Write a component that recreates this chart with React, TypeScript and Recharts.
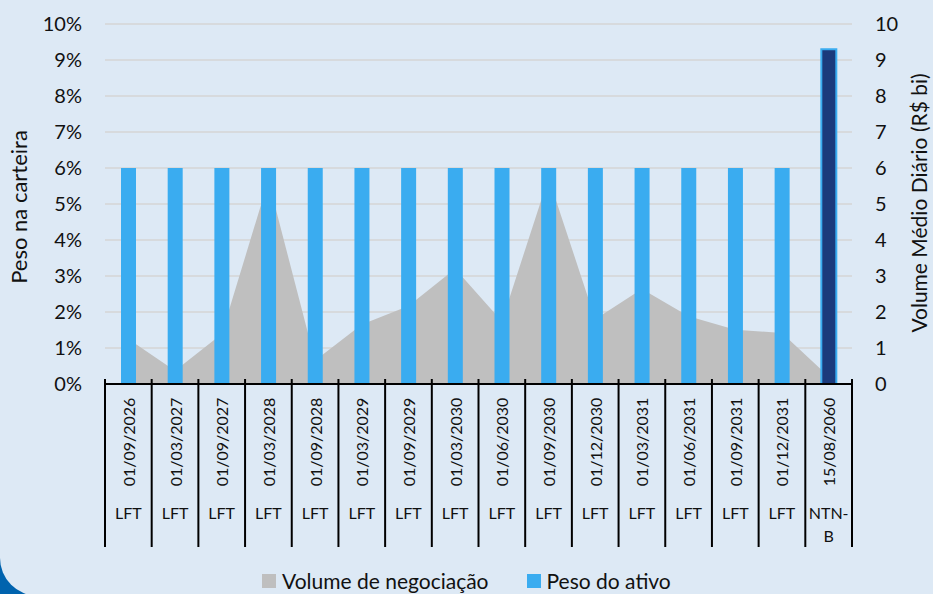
import React from 'react';
import { ComposedChart, Area, Bar, Cell, XAxis, YAxis, CartesianGrid } from 'recharts';

const dates = [
    '01/09/2026', '01/03/2027', '01/09/2027', '01/03/2028', '01/09/2028', '01/03/2029',
    '01/09/2029', '01/03/2030', '01/06/2030', '01/09/2030', '01/12/2030', '01/03/2031',
    '01/06/2031', '01/09/2031', '01/12/2031', '15/08/2060',
];
const assetTypes = ['LFT', 'LFT', 'LFT', 'LFT', 'LFT', 'LFT', 'LFT', 'LFT', 'LFT', 'LFT', 'LFT', 'LFT', 'LFT', 'LFT', 'LFT', 'NTN-B'];
// volume médio diário, R$ bi (eixo direito)
const volume = [1.25, 0.37, 1.39, 5.65, 0.65, 1.65, 2.17, 3.2, 1.74, 5.73, 1.8, 2.64, 1.88, 1.51, 1.42, 0.21];
// peso na carteira, em %
const peso = [6, 6, 6, 6, 6, 6, 6, 6, 6, 6, 6, 6, 6, 6, 6, 9.3];
const pctTicks = [0, 1, 2, 3, 4, 5, 6, 7, 8, 9, 10];
const volTicks = [0, 1, 2, 3, 4, 5, 6, 7, 8, 9, 10];

const data = dates.map((d, i) => ({ date: d, tipo: assetTypes[i], volume: volume[i], peso: peso[i] }));

const W = 933;
const H = 594;
const LEFT_W = 105;
const RIGHT_W = 81;
const PLOT_W = W - LEFT_W - RIGHT_W;
const STEP = PLOT_W / dates.length;
const FONT = 'Lato, "Open Sans", sans-serif';
const BG = '#dde9f5';
const GRAY = '#bfbfbf';
const BLUE = '#3aacf0';
const NAVY = '#1b3a7c';

const DateTick = (props: any) => {
    const { x, y, payload, index } = props;
    const tipo = assetTypes[index];
    const last = index === dates.length - 1;
    return (
        <g>
            <line x1={x - STEP / 2} x2={x - STEP / 2} y1={y - 5} y2={y + 163} stroke="#000" strokeWidth={2} />
            {last && <line x1={x + STEP / 2} x2={x + STEP / 2} y1={y - 5} y2={y + 163} stroke="#000" strokeWidth={2} />}
            <text
                transform={`translate(${x},${y + 58}) rotate(-90)`}
                textAnchor="middle"
                dominantBaseline="central"
                fontSize={16}
                fontFamily={FONT}
                fill="#111"
            >
                {payload.value}
            </text>
            {tipo === 'NTN-B' ? (
                <text textAnchor="middle" fontSize={16} fontFamily={FONT} fill="#111">
                    <tspan x={x} y={y + 135}>NTN-</tspan>
                    <tspan x={x} y={y + 158}>B</tspan>
                </text>
            ) : (
                <text x={x} y={y + 135} textAnchor="middle" fontSize={16} fontFamily={FONT} fill="#111">
                    {tipo}
                </text>
            )}
        </g>
    );
};

const App: React.FC = () => {
    return (
        <div style={{ position: 'absolute', left: 0, top: 0, width: W, height: H, overflow: 'hidden', background: '#0063ae' }}>
            <div style={{ position: 'absolute', left: 0, top: 0, width: W, height: 596, background: BG, borderBottomLeftRadius: 38 }} />
            <div style={{ position: 'absolute', left: 0, top: 0 }}>
                <ComposedChart width={W} height={H} data={data} margin={{ top: 24, right: 0, left: 0, bottom: 0 }}>
                    <CartesianGrid horizontal vertical={false} stroke="#d5d5d5" strokeWidth={1.5} yAxisId="left" />
                    <XAxis
                        dataKey="date"
                        interval={0}
                        height={210}
                        tickSize={0}
                        tickMargin={0}
                        axisLine={{ stroke: '#000', strokeWidth: 2 }}
                        tickLine={false}
                        tick={<DateTick />}
                    />
                    <YAxis
                        yAxisId="left"
                        orientation="left"
                        width={LEFT_W}
                        domain={[0, 10]}
                        ticks={pctTicks}
                        tickFormatter={(v) => `${v}%`}
                        axisLine={false}
                        tickLine={false}
                        tickSize={0}
                        tickMargin={23}
                        tick={{ fill: '#111', fontSize: 20, fontFamily: FONT }}
                    />
                    <YAxis
                        yAxisId="right"
                        orientation="right"
                        width={RIGHT_W}
                        domain={[0, 10]}
                        ticks={volTicks}
                        axisLine={false}
                        tickLine={false}
                        tickSize={0}
                        tickMargin={23}
                        tick={{ fill: '#111', fontSize: 20, fontFamily: FONT }}
                    />
                    <Area
                        yAxisId="right"
                        type="linear"
                        dataKey="volume"
                        name="Volume de negociação"
                        fill={GRAY}
                        fillOpacity={1}
                        stroke="none"
                        isAnimationActive={false}
                    />
                    <Bar yAxisId="left" dataKey="peso" name="Peso do ativo" barSize={15} fill={BLUE} isAnimationActive={false}>
                        {data.map((d) => (
                            <Cell
                                key={d.date}
                                fill={d.tipo === 'NTN-B' ? NAVY : BLUE}
                                stroke={d.tipo === 'NTN-B' ? BLUE : 'none'}
                                strokeWidth={d.tipo === 'NTN-B' ? 2 : 0}
                            />
                        ))}
                    </Bar>
                </ComposedChart>
            </div>
            <div
                style={{
                    position: 'absolute', left: 18, top: 207, transform: 'translate(-50%, -50%) rotate(-90deg)',
                    whiteSpace: 'nowrap', fontFamily: FONT, fontSize: 22, color: '#111',
                }}
            >
                Peso na carteira
            </div>
            <div
                style={{
                    position: 'absolute', left: 919, top: 203, transform: 'translate(-50%, -50%) rotate(-90deg)',
                    whiteSpace: 'nowrap', fontFamily: FONT, fontSize: 21, lineHeight: '24px', color: '#111',
                }}
            >
                Volume Médio Diário (R$ bi)
            </div>
            <div
                style={{
                    position: 'absolute', left: 262, top: 569, display: 'flex', alignItems: 'center',
                    fontFamily: FONT, fontSize: 21, color: '#111', whiteSpace: 'nowrap', lineHeight: '24px',
                }}
            >
                <span style={{ width: 14, height: 14, background: GRAY, display: 'inline-block', marginRight: 6 }} />
                <span>Volume de negociação</span>
                <span style={{ width: 14, height: 14, background: BLUE, display: 'inline-block', marginLeft: 38, marginRight: 6 }} />
                <span>Peso do ativo</span>
            </div>
        </div>
    );
};

export default App;
